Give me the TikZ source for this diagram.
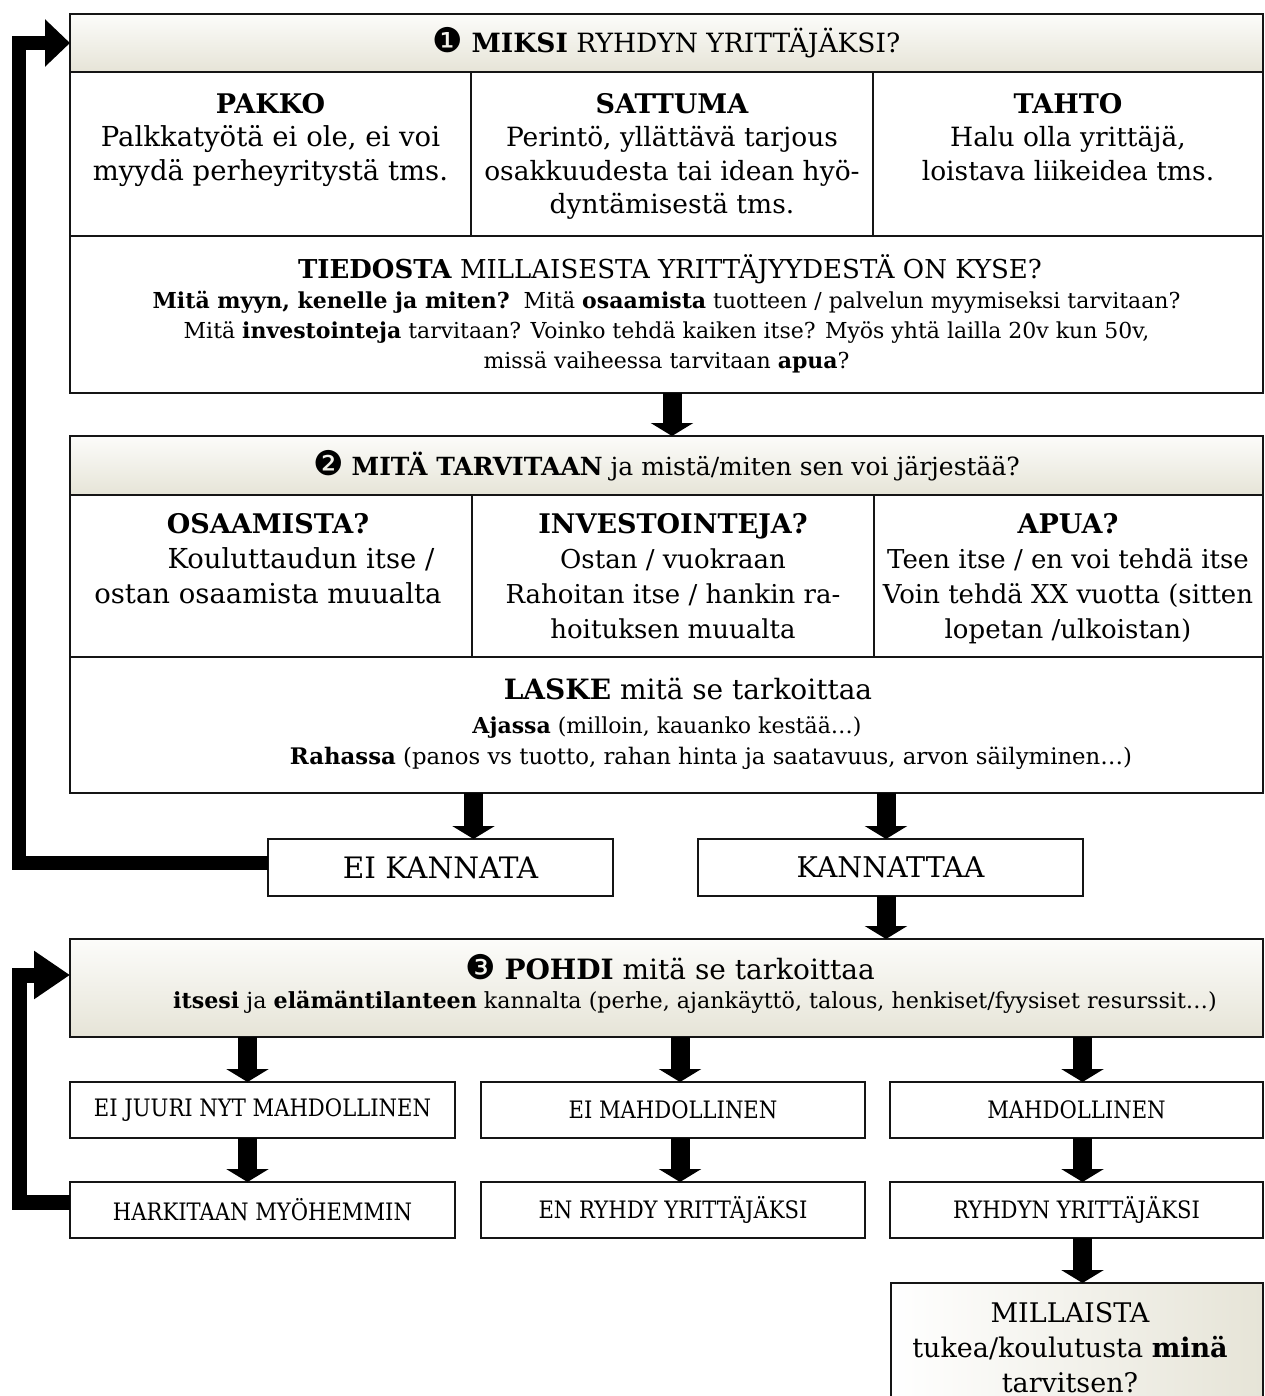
\documentclass[tikz,border=0pt]{standalone}
\usepackage{fontspec}
\setmainfont{DejaVu Serif}
\newfontfamily\dvs{DejaVu Sans}
\newfontfamily\rowfont[FakeStretch=0.88]{DejaVu Serif}
\usetikzlibrary{arrows.meta}
\definecolor{hdrtop}{HTML}{FCFCFA}
\definecolor{hdrbot}{HTML}{E6E4D7}
\definecolor{framec}{HTML}{151515}
\newcommand{\colhead}[1]{{\fontsize{27}{30}\selectfont\bfseries #1}}
\newcommand{\circnum}[1]{{\dvs\fontsize{34}{34}\selectfont #1}}
\tikzset{
  boxc/.style={draw=framec, line width=1.9pt, anchor=north west, inner sep=0pt, outer sep=0pt},
  hdrc/.style={boxc, top color=hdrtop, bottom color=hdrbot},
  coltxt/.style={anchor=north, align=center, inner sep=0pt, font=\fontsize{26.5}{33.5}\selectfont},
  coltxtb/.style={coltxt, font=\fontsize{26}{35}\selectfont},
  subtxt/.style={anchor=north, align=center, inner sep=0pt, font=\fontsize{22}{30}\selectfont},
  titletxt/.style={anchor=north, align=center, inner sep=0pt, font=\fontsize{27}{32}\selectfont},
  rowtxt/.style={font=\rowfont\fontsize{24}{28}\selectfont},
  dn/.style={line width=19pt, -{Triangle[width=42pt,length=13pt]}},
  backa/.style={line width=14pt, line join=miter, -{Triangle[width=46pt,length=25pt]}},
  backb/.style={line width=15pt, line join=miter, -{Triangle[width=46pt,length=36pt]}},
}
\begin{document}
\begin{tikzpicture}[x=1pt,y=-1pt]
\useasboundingbox (0,0) rectangle (1264,1396);
\clip (0,0) rectangle (1264,1396);

% ---------- box 1 ----------
\node[hdrc, minimum width=1193pt, minimum height=58pt, font=\fontsize{26.5}{32}\selectfont] (h1) at (70,14)
  {\circnum{❶} \textbf{MIKSI} RYHDYN YRITTÄJÄKSI?};
\node[boxc, minimum width=401pt, minimum height=164pt] (c11) at (70,72) {};
\node[boxc, minimum width=402pt, minimum height=164pt] (c12) at (471,72) {};
\node[boxc, minimum width=390pt, minimum height=164pt] (c13) at (873,72) {};
\node[boxc, minimum width=1193pt, minimum height=157pt] (t1) at (70,236) {};

\node[coltxt, font=\fontsize{27.5}{33.5}\selectfont] (c11t) at (270.5,93) {\colhead{PAKKO}\\Palkkatyötä ei ole, ei voi\\myydä perheyritystä tms.};
\node[coltxt] (c12t) at (672,93) {\colhead{SATTUMA}\\Perintö, yllättävä tarjous\\osakkuudesta tai idean hyö-\\dyntämisestä tms.};
\node[coltxt] (c13t) at (1068,93) {\colhead{TAHTO}\\Halu olla yrittäjä,\\loistava liikeidea tms.};

\node[titletxt, font=\fontsize{26}{32}\selectfont] (t1a) at (670,254) {\textbf{TIEDOSTA} MILLAISESTA YRITTÄJYYDESTÄ ON KYSE?};
\node[subtxt] (t1b) at (666.5,291) {\textbf{Mitä myyn, kenelle ja miten?}\ \ Mitä \textbf{osaamista} tuotteen / palvelun myymiseksi tarvitaan?\\
  Mitä \textbf{investointeja} tarvitaan? Voinko tehdä kaiken itse? Myös yhtä lailla 20v kun 50v,\\
  missä vaiheessa tarvitaan \textbf{apua}?};

% ---------- box 2 ----------
\node[hdrc, minimum width=1193pt, minimum height=59pt, font=\fontsize{25}{32}\selectfont] (h2) at (70,436)
  {\circnum{❷} \textbf{MITÄ TARVITAAN} ja mistä/miten sen voi järjestää?};
\node[boxc, minimum width=402pt, minimum height=162pt] (c21) at (70,495) {};
\node[boxc, minimum width=402pt, minimum height=162pt] (c22) at (472,495) {};
\node[boxc, minimum width=389pt, minimum height=162pt] (c23) at (874,495) {};
\node[boxc, minimum width=1193pt, minimum height=136pt] (t2) at (70,657) {};

\node[coltxtb, font=\fontsize{27.5}{35}\selectfont] (c21t) at (268,513) {\colhead{OSAAMISTA?}\\\hspace*{66pt}Kouluttaudun itse /\\ostan osaamista muualta};
\node[coltxtb] (c22t) at (673,513) {\colhead{INVESTOINTEJA?}\\Ostan / vuokraan\\Rahoitan itse / hankin ra-\\hoituksen muualta};
\node[coltxtb] (c23t) at (1068,513) {\colhead{APUA?}\\Teen itse / en voi tehdä itse\\Voin tehdä XX vuotta (sitten\\lopetan /ulkoistan)};

\node[titletxt, font=\fontsize{28}{32}\selectfont] (t2a) at (688,678) {\textbf{LASKE} mitä se tarkoittaa};
\node[subtxt] (t2b) at (667,716) {\textbf{Ajassa} (milloin, kauanko kestää…)};
\node[subtxt, font=\fontsize{22.8}{30}\selectfont] (t2c) at (711,747) {\textbf{Rahassa} (panos vs tuotto, rahan hinta ja saatavuus, arvon säilyminen…)};

% ---------- decision ----------
\node[boxc, minimum width=345pt, minimum height=57pt, font=\fontsize{29.5}{32}\selectfont] (eik) at (268,839) {EI KANNATA};
\node[boxc, minimum width=385pt, minimum height=57pt, font=\fontsize{28.5}{32}\selectfont] (kan) at (698,839) {KANNATTAA};

% ---------- box 3 ----------
\node[hdrc, minimum width=1193pt, minimum height=98pt] (b3) at (70,939) {};
\node[titletxt, font=\fontsize{28}{32}\selectfont] (b3a) at (670,954) {\circnum{❸} \textbf{POHDI} mitä se tarkoittaa};
\node[subtxt, font=\fontsize{22.2}{30}\selectfont] (b3b) at (695,991) {\textbf{itsesi} ja \textbf{elämäntilanteen} kannalta (perhe, ajankäyttö, talous, henkiset/fyysiset resurssit…)};

% ---------- rows ----------
\node[boxc, rowtxt, minimum width=385pt, minimum height=56pt] (ra1) at (70,1082) {EI JUURI NYT MAHDOLLINEN};
\node[boxc, rowtxt, minimum width=384pt, minimum height=56pt] (ra2) at (481,1082) {EI MAHDOLLINEN};
\node[boxc, rowtxt, minimum width=373pt, minimum height=56pt] (ra3) at (890,1082) {MAHDOLLINEN};
\node[boxc, rowtxt, minimum width=385pt, minimum height=56pt] (rb1) at (70,1182) {HARKITAAN MYÖHEMMIN};
\node[boxc, rowtxt, minimum width=384pt, minimum height=56pt] (rb2) at (481,1182) {EN RYHDY YRITTÄJÄKSI};
\node[boxc, rowtxt, minimum width=373pt, minimum height=56pt] (rb3) at (890,1182) {RYHDYN YRITTÄJÄKSI};

\node[boxc, left color=white, right color=hdrbot, minimum width=372pt, minimum height=125pt] (mil) at (891,1283) {};
\node[coltxtb, font=\fontsize{27}{35}\selectfont] (milt) at (1070,1302) {MILLAISTA\\tukea/koulutusta \textbf{minä}\\tarvitsen?};

% ---------- arrows ----------
\draw[dn] ([xshift=5.5pt]t1.south) -- ([xshift=5.5pt]h2.north);
\draw[dn] ([xshift=33pt]eik.north |- t2.south) -- ([xshift=33pt]eik.north);
\draw[dn] ([xshift=-4.5pt]kan.north |- t2.south) -- ([xshift=-4.5pt]kan.north);
\draw[dn] ([xshift=-4.5pt]kan.south) -- ([xshift=-4.5pt]kan.south |- b3.north);
\draw[dn] ([xshift=-15pt]ra1.north |- b3.south) -- ([xshift=-15pt]ra1.north);
\draw[dn] ([xshift=7pt]ra2.north |- b3.south) -- ([xshift=7pt]ra2.north);
\draw[dn] ([xshift=6pt]ra3.north |- b3.south) -- ([xshift=6pt]ra3.north);
\draw[dn] ([xshift=-15pt]ra1.south) -- ([xshift=-15pt]rb1.north);
\draw[dn] ([xshift=7pt]ra2.south) -- ([xshift=7pt]rb2.north);
\draw[dn] ([xshift=6pt]ra3.south) -- ([xshift=6pt]rb3.north);
\draw[dn] ([xshift=6pt]rb3.south) -- ([xshift=6pt]rb3.south |- mil.north);

\coordinate (lc1) at (19,43);
\draw[backa] ([yshift=4.5pt]eik.west) -| (lc1) -- (h1.west);
\coordinate (lc2) at (19,975);
\draw[backb] ([yshift=8pt]rb1.west) -| (lc2) -- (b3.west |- lc2);
\end{tikzpicture}
\end{document}
